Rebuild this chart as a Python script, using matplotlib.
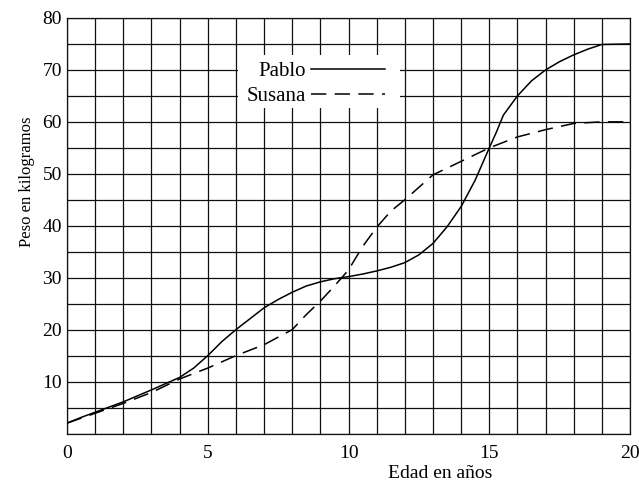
import matplotlib
matplotlib.use("Agg")
import matplotlib.pyplot as plt
from matplotlib.lines import Line2D
from matplotlib.patches import Rectangle

plt.rcParams['font.family'] = ['Liberation Serif', 'DejaVu Serif']

# Pablo (solid)
edad_p = [0, 0.5, 1, 2, 3, 4, 4.5, 5, 5.5, 6, 6.5, 7, 7.5, 8, 8.5, 9, 9.5, 10, 10.5, 11, 11.5,
          12, 12.5, 13, 13.5, 14, 14.5, 15, 15.25, 15.5, 16, 16.5, 17, 17.5, 18, 18.5, 19, 20]
pablo = [2, 3.1, 4.1, 6.1, 8.4, 10.8, 12.6, 15, 17.7, 20, 22.1, 24.2, 25.8, 27.2, 28.4, 29.2, 29.8, 30.2, 30.7, 31.3, 32,
         32.9, 34.4, 36.6, 39.8, 43.7, 48.8, 55, 58, 61.3, 65, 67.9, 70, 71.6, 72.9, 74, 74.9, 75]

# Susana (dashed)
edad_s = [0, 1, 2, 3, 4, 5, 6, 7, 8, 8.5, 9, 9.5, 10, 10.5, 11, 11.5, 12, 13, 14, 15, 16, 17, 18, 19, 20]
susana = [2, 3.9, 5.8, 7.9, 10.5, 12.6, 15, 17.1, 20, 22.9, 25.5, 28.4, 31.5, 36, 39.7, 42.8, 45, 49.8, 52.4, 55, 57.1, 58.5, 59.7, 60, 60]

x_ticks = [0, 5, 10, 15, 20]
y_ticks = [10, 20, 30, 40, 50, 60, 70, 80]
labels = ["Pablo", "Susana"]

DASH = (0, (10, 5.5))

fig = plt.figure(figsize=(6.39, 4.82), dpi=100)
ax = fig.add_axes([0.1049, 0.1006, 0.8811, 0.8621])
ax.set_xlim(0, 20)
ax.set_ylim(0, 80)

# grid
for gx in range(0, 21):
    ax.axvline(gx, color='#111111', lw=0.9, zorder=1)
for gy in range(0, 81, 5):
    ax.axhline(gy, color='#111111', lw=0.9, zorder=1)

ax.plot(edad_p, pablo, color='black', lw=1.1, zorder=3)
ax.plot(edad_s, susana, color='black', lw=1.1, linestyle=DASH, zorder=3)

ax.set_xticks(x_ticks)
ax.set_yticks(y_ticks)
ax.tick_params(length=0, labelsize=14)
ax.tick_params(axis='x', pad=8)
ax.tick_params(axis='y', pad=3.6)
for s in ax.spines.values():
    s.set_linewidth(0.9)
    s.set_color('#111111')

ax.set_xlabel("Edad en años", fontsize=14)
ax.xaxis.set_label_coords(0.6625, -0.076)
ax.set_ylabel("Peso en kilogramos", fontsize=12)
ax.yaxis.set_label_coords(-0.057, 0.605)

# white box behind the legend
ax.add_patch(Rectangle((0.3037, 0.7825), 0.2878, 0.1274, transform=ax.transAxes,
                       facecolor='white', edgecolor='none', zorder=4))

handles = [Line2D([], [], color='black', lw=1.1),
           Line2D([], [], color='black', lw=1.1, linestyle=DASH)]
leg = ax.legend(handles, labels, markerfirst=False, loc='center right',
                bbox_to_anchor=(0.5648, 0.8413), frameon=False,
                fontsize=15, handlelength=3.55, handletextpad=0.25,
                labelspacing=0.27, borderpad=0, borderaxespad=0)
leg.set_zorder(5)
for t in leg.get_texts():
    t.set_ha('right')

fig.savefig("out.png", dpi=100)
